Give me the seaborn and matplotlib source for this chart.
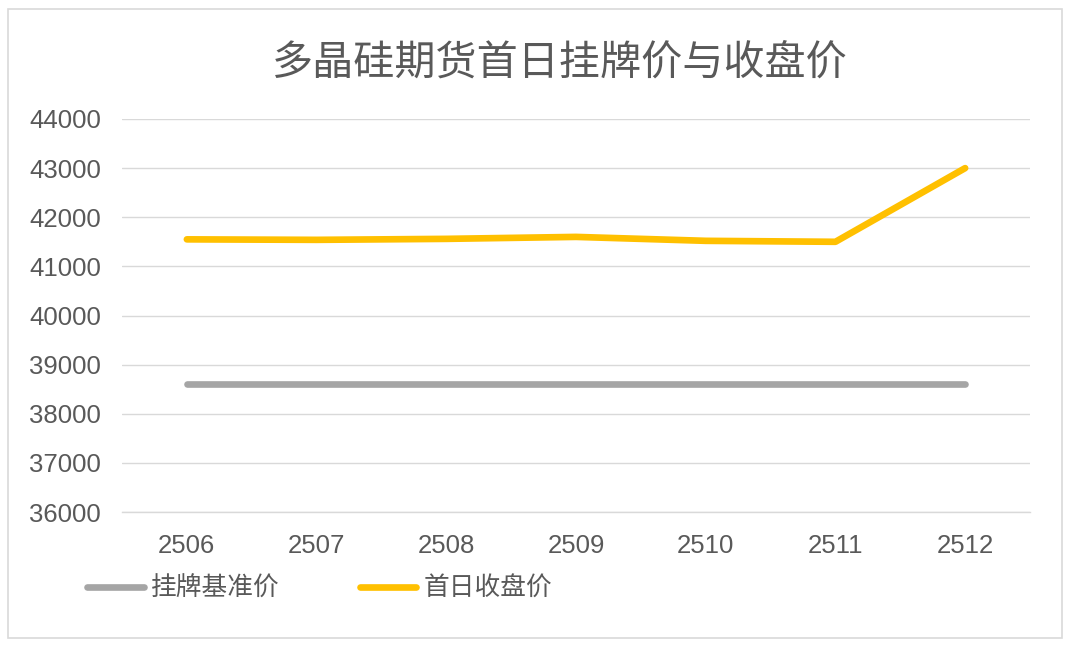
import matplotlib
matplotlib.use("Agg")
import matplotlib.pyplot as plt
import seaborn as sns
import pandas as pd
from matplotlib.patches import Rectangle
from matplotlib.lines import Line2D

categories = ["2506", "2507", "2508", "2509", "2510", "2511", "2512"]
listing_price = [38600, 38600, 38600, 38600, 38600, 38600, 38600]
close_price = [41550, 41540, 41560, 41600, 41520, 41500, 43000]
series_names = ["挂牌基准价", "首日收盘价"]
title = "多晶硅期货首日挂牌价与收盘价"
yticks = [36000, 37000, 38000, 39000, 40000, 41000, 42000, 43000, 44000]

sns.set_theme(style="white")
plt.rcParams['font.family'] = ['Liberation Sans', 'Noto Sans CJK SC', 'DejaVu Sans']

df = pd.DataFrame({
    "cat": categories * 2,
    "val": listing_price + close_price,
    "series": [series_names[0]] * len(categories) + [series_names[1]] * len(categories),
})

fig = plt.figure(figsize=(10.69, 6.48), dpi=100)
ax = fig.add_axes([122 / 1069, 1 - 512 / 648, (1030 - 122) / 1069, (512 - 119) / 648])

palette = {series_names[0]: "#A5A5A5", series_names[1]: "#FFC000"}
sns.lineplot(data=df, x="cat", y="val", hue="series", palette=palette, ax=ax,
             linewidth=4.8, sort=False, legend=False)
for ln in ax.lines:
    ln.set_solid_capstyle("round")
    ln.set_solid_joinstyle("round")

ax.set_xlim(-0.5, len(categories) - 0.5)
ax.set_ylim(yticks[0], yticks[-1])
ax.set_yticks(yticks)
ax.set_yticklabels([str(v) for v in yticks])
ax.set_xlabel("")
ax.set_ylabel("")
ax.yaxis.grid(True, color="#D9D9D9", linewidth=1)
ax.xaxis.grid(False)
ax.set_axisbelow(True)
for s in ["top", "right", "left"]:
    ax.spines[s].set_visible(False)
ax.spines["bottom"].set_color("#D9D9D9")
ax.spines["bottom"].set_linewidth(1)
ax.tick_params(axis="both", length=0, labelsize=18.5, colors="#595959")
ax.tick_params(axis="y", pad=15)
ax.tick_params(axis="x", pad=15.5)

fig.text(560 / 1069, 1 - 63 / 648, title, ha="center", va="center",
         fontsize=29.6, color="#595959", family=['Noto Sans CJK SC', 'DejaVu Sans'])

# legend
handles = [Line2D([0], [0], color=palette[n], linewidth=4.8, solid_capstyle="round") for n in series_names]
leg = fig.legend(handles, series_names, loc="center left",
                 bbox_to_anchor=(87 / 1069, 1 - 589 / 648), ncol=2, frameon=False,
                 prop={'family': ['Noto Sans CJK SC', 'DejaVu Sans'], 'size': 18.5},
                 handlelength=2.2, handletextpad=0.3, columnspacing=3.1,
                 borderpad=0, borderaxespad=0, labelcolor="#595959")

# outer border
fig.patches.append(Rectangle((8 / 1069, 10 / 648), 1054 / 1069, 629 / 648,
                             transform=fig.transFigure, fill=False,
                             edgecolor="#D9D9D9", linewidth=1.2))

fig.savefig("out.png", dpi=100, facecolor="white")
